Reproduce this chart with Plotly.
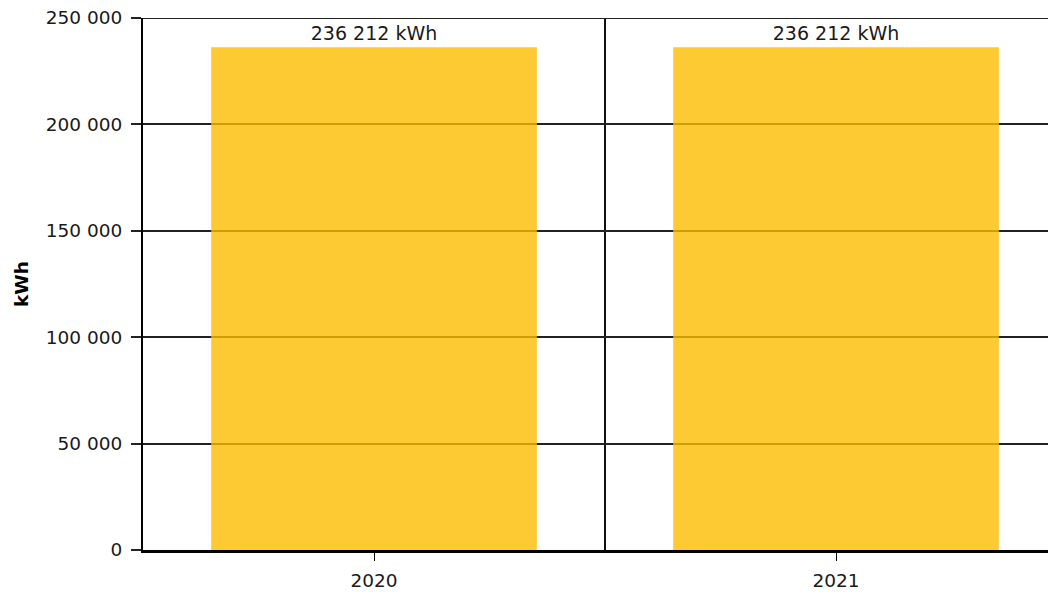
import plotly.graph_objects as go

categories = ["2020", "2021"]
values = [236212, 236212]
labels = ["236 212 kWh", "236 212 kWh"]
y_tickvals = [0, 50000, 100000, 150000, 200000, 250000]
y_ticktext = ["0", "50 000", "100 000", "150 000", "200 000", "250 000"]

FONT = "DejaVu Sans"
FS = 18.5
TXT = "#1a1a1a"

fig = go.Figure()
fig.add_trace(go.Bar(
    x=[0, 1], y=values, width=0.705,
    marker=dict(color="rgb(252,189,0)", opacity=0.8, line=dict(width=0)),
    text=labels, textposition="outside", cliponaxis=False,
    textfont=dict(family=FONT, size=19, color=TXT),
    hoverinfo="skip",
))

# category divider and top border
fig.add_shape(type="line", xref="x", yref="paper", x0=0.5, x1=0.5, y0=0, y1=1,
              line=dict(color="#111111", width=2), layer="below")
fig.add_shape(type="line", xref="paper", yref="y", x0=0, x1=1, y0=250000, y1=250000,
              line=dict(color="#222222", width=2), layer="below")

fig.add_annotation(text="<b>kWh</b>", xref="paper", yref="paper", x=0, y=0.5,
                   xanchor="center", yanchor="middle", xshift=-122, yshift=0,
                   textangle=-90, showarrow=False,
                   font=dict(family=FONT, size=FS, color="black"))

fig.update_layout(
    width=1056, height=596,
    margin=dict(l=135, r=0, t=10, b=54),
    paper_bgcolor="white", plot_bgcolor="white",
    showlegend=False,
    font=dict(family=FONT, size=FS, color=TXT),
)
fig.update_xaxes(
    range=[-0.5, 1.4935], tickvals=[0, 1], ticktext=categories,
    showgrid=False, zeroline=False,
    showline=True, linecolor="black", linewidth=3,
    ticks="outside", ticklen=8, tickwidth=1, tickcolor="black",
    tickfont=dict(family=FONT, size=FS, color=TXT),
    ticklabelstandoff=4,
)
fig.update_yaxes(
    range=[0, 250000], tickvals=y_tickvals, ticktext=y_ticktext,
    showgrid=True, gridcolor="#222222", gridwidth=2,
    zeroline=False,
    showline=True, linecolor="black", linewidth=2,
    ticks="outside", ticklen=10, tickwidth=2, tickcolor="#222222",
    tickfont=dict(family=FONT, size=FS, color=TXT),
    ticklabelstandoff=5, ticklabeloverflow="allow",
)
fig.write_html("out.html")
